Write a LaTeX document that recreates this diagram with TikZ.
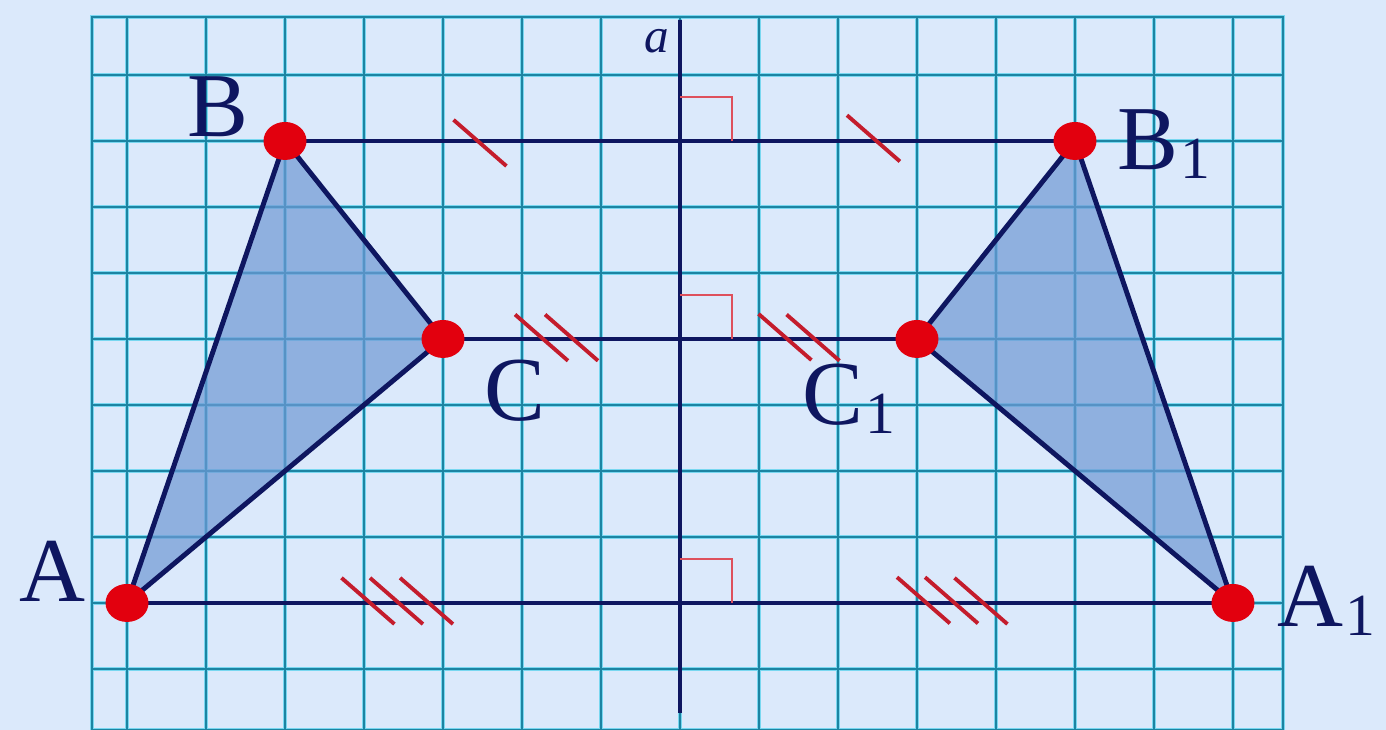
\documentclass[tikz,border=0pt]{standalone}
\usepackage{fontspec}
\setmainfont{Liberation Serif}
\usepackage{tikz}
\usetikzlibrary{shapes.geometric}
\definecolor{paper}{RGB}{219,233,251}
\definecolor{gridcore}{RGB}{28,132,162}
\definecolor{gridglow}{RGB}{120,215,240}
\definecolor{navy}{RGB}{14,22,96}
\definecolor{dotred}{RGB}{226,0,14}
\definecolor{markred}{RGB}{222,80,92}
\definecolor{tickred}{RGB}{196,28,44}
\definecolor{trifill}{RGB}{112,152,212}
\newcommand{\subone}{\kern1.5pt\raisebox{-5pt}{\fontsize{34}{34}\selectfont 1}}

\begin{document}
\begin{tikzpicture}[
  x=1.58cm, y=1.32cm,
  glowline/.style={draw=gridglow, line width=2.2pt},
  coreline/.style={draw=gridcore, line width=0.85pt},
  tri/.style={draw=navy, line width=2.8pt, line join=round, fill=trifill, fill opacity=0.7},
  segment/.style={draw=navy, line width=2.3pt},
  axisline/.style={draw=navy, line width=2.1pt},
  rightmark/.style={draw=markred, line width=1.1pt},
  tickmark/.style={draw=tickred, line width=2.2pt},
  dot/.style={ellipse, fill=dotred, minimum width=0.86cm, minimum height=0.76cm, inner sep=0pt},
  lbl/.style={inner sep=0pt, anchor=base west, text=navy, font=\fontsize{52}{52}\selectfont}
]
\fill[paper] (-8.608,-1.924) rectangle (8.937,9.136);
\useasboundingbox (-8.608,-1.924) rectangle (8.937,9.136);

\foreach \x in {-7,...,7} \draw[glowline] (\x,-1.924) -- (\x,8.879);
\foreach \y in {-1,...,8} \draw[glowline] (-7.443,\y) -- (7.633,\y);
\draw[glowline] (-7.443,-1.924) rectangle (7.633,8.879);
\foreach \x in {-7,...,7} \draw[coreline] (\x,-1.924) -- (\x,8.879);
\foreach \y in {-1,...,8} \draw[coreline] (-7.443,\y) -- (7.633,\y);
\draw[coreline] (-7.443,-1.924) rectangle (7.633,8.879);

\coordinate (A) at (-7,0);
\coordinate (B) at (-5,7);
\coordinate (C) at (-3,4);
\coordinate (A1) at (7,0);
\coordinate (B1) at (5,7);
\coordinate (C1) at (3,4);
\coordinate (atop) at (0,8.833);
\coordinate (abot) at (0,-1.667);

\draw[tri] (A) -- (B) -- (C) -- cycle;
\draw[tri] (A1) -- (B1) -- (C1) -- cycle;

\draw[segment] (B) -- (B1);
\draw[segment] (C) -- (C1);
\draw[segment] (A) -- (A1);
\draw[axisline] (atop) -- (abot);

\foreach \y in {0,4,7} \draw[rightmark] (0,\y+0.667) -| (0.658,\y);

\foreach \x/\y in {-2.532/6.97, 2.449/7.04,
                   -1.753/4.02, -1.373/4.02, 1.329/4.03, 1.684/4.02,
                   -3.95/0.03, -3.589/0.03, -3.209/0.03, 3.082/0.04, 3.437/0.04, 3.810/0.03}
  \draw[tickmark] (\x-0.335,\y+0.35) -- (\x+0.335,\y-0.35);

\foreach \p in {A,B,C,A1,B1,C1} \node[dot] at (\p) {};

\node[lbl] (labA) at (-8.367,0.015) {A};
\node[lbl] (labB) at (-6.241,7.061) {B};
\node[lbl] (labC) at (-2.481,2.758) {C};
\node[lbl] (labA1) at (7.557,-0.364) {A\subone};
\node[lbl] (labB1) at (5.532,6.561) {B\subone};
\node[lbl] (labC1) at (1.544,2.697) {C\subone};
\node[lbl, font=\fontsize{28}{28}\selectfont\itshape] (laba) at (-0.456,8.348) {a};

\end{tikzpicture}
\end{document}
